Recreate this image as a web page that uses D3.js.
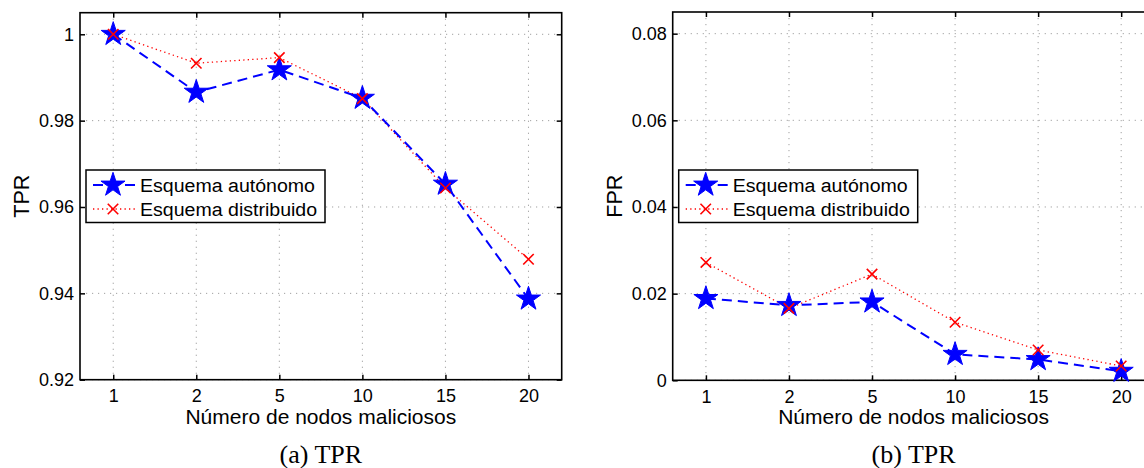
<!DOCTYPE html>
<html>
<head>
<meta charset="utf-8">
<style>
  body { margin: 0; background: #fff; }
  svg { display: block; }
  .tick text, .lbl, .leg text { font-family: "Liberation Sans", Arial, sans-serif; fill: #000; }
  .cap { font-family: "Liberation Serif", "DejaVu Serif", serif; fill: #000; }
</style>
</head>
<body>
<svg id="fig" width="1144" height="468"></svg>
<script src="https://d3js.org/d3.v7.min.js"></script>
<script>
// data
var categories = ["1", "2", "5", "10", "15", "20"];
var tprAutonomo    = [1.000, 0.9866, 0.9918, 0.9852, 0.9653, 0.9387];
var tprDistribuido = [1.000, 0.9933, 0.9946, 0.9851, 0.9644, 0.9479];
var fprAutonomo    = [0.0189, 0.0173, 0.0181, 0.0060, 0.0048, 0.0021];
var fprDistribuido = [0.0272, 0.0166, 0.0245, 0.0134, 0.0070, 0.0033];
var tprTicks = [0.92, 0.94, 0.96, 0.98, 1];
var fprTicks = [0, 0.02, 0.04, 0.06, 0.08];
var seriesNames = ["Esquema autónomo", "Esquema distribuido"];
var xLabel = "Número de nodos maliciosos";

var svg = d3.select("#fig");

// x-shaped marker like matlab's 'x'
var symbolX = {
  draw: function(ctx, size) {
    var r = Math.sqrt(size) / 2;
    ctx.moveTo(-r, -r); ctx.lineTo(r, r);
    ctx.moveTo(-r, r); ctx.lineTo(r, -r);
  }
};

function panel(o) {
  var x = d3.scalePoint().domain(categories).range([o.left, o.right]).padding(0.4);
  var y = d3.scaleLinear().domain(o.domain).range([o.bottom, o.top]);
  var g = svg.append("g");

  // dotted grid
  g.append("g").selectAll("line.gx").data(categories).enter().append("line")
    .attr("x1", function(d) { return x(d); }).attr("x2", function(d) { return x(d); })
    .attr("y1", o.top).attr("y2", o.bottom)
    .attr("stroke", "#a0a0a0").attr("stroke-width", 1).attr("stroke-dasharray", "1.2,4.8");
  g.append("g").selectAll("line.gy").data(o.ticks).enter().append("line")
    .attr("y1", function(d) { return y(d); }).attr("y2", function(d) { return y(d); })
    .attr("x1", o.left).attr("x2", o.right)
    .attr("stroke", "#a0a0a0").attr("stroke-width", 1).attr("stroke-dasharray", "1.2,4.8");

  // axes, ticks pointing inward
  g.append("g").attr("transform", "translate(0," + o.bottom + ")")
    .call(d3.axisBottom(x).tickSizeInner(-5).tickSizeOuter(0).tickPadding(10));
  g.append("g").attr("transform", "translate(" + o.left + ",0)")
    .call(d3.axisLeft(y).tickValues(o.ticks).tickFormat(d3.format("~g")).tickSizeInner(-5).tickSizeOuter(0).tickPadding(6));
  g.append("g").attr("transform", "translate(0," + o.top + ")")
    .call(d3.axisTop(x).tickSizeInner(-5).tickSizeOuter(0).tickFormat(""));
  g.append("g").attr("transform", "translate(" + o.right + ",0)")
    .call(d3.axisRight(y).tickValues(o.ticks).tickSizeInner(-5).tickSizeOuter(0).tickFormat(""));
  g.selectAll(".domain").remove();
  g.selectAll(".tick line").attr("stroke", "#000").attr("stroke-width", 1.5);
  g.selectAll(".tick text").attr("font-size", 18);

  g.append("rect")
    .attr("x", o.left).attr("y", o.top)
    .attr("width", o.right - o.left).attr("height", o.bottom - o.top)
    .attr("fill", "none").attr("stroke", "#000").attr("stroke-width", 1.6);

  // series
  var line = d3.line().x(function(d, i) { return x(categories[i]); }).y(function(d) { return y(d); });
  g.append("path").datum(o.dist).attr("d", line)
    .attr("fill", "none").attr("stroke", "#ff0000").attr("stroke-width", 1.3).attr("stroke-dasharray", "1.3,3.2");
  g.append("path").datum(o.auto).attr("d", line)
    .attr("fill", "none").attr("stroke", "#0000ff").attr("stroke-width", 2).attr("stroke-dasharray", "10,6");

  var star = d3.symbol().type(d3.symbolStar).size(180);
  var cross = d3.symbol().type(symbolX).size(110);
  g.selectAll("path.st").data(o.auto).enter().append("path")
    .attr("d", star)
    .attr("transform", function(d, i) { return "translate(" + x(categories[i]) + "," + y(d) + ")"; })
    .attr("fill", "#0000ff").attr("stroke", "#0000ff").attr("stroke-width", 1);
  g.selectAll("path.cx").data(o.dist).enter().append("path")
    .attr("d", cross)
    .attr("transform", function(d, i) { return "translate(" + x(categories[i]) + "," + y(d) + ")"; })
    .attr("fill", "none").attr("stroke", "#ff0000").attr("stroke-width", 1.6);

  // axis labels
  g.append("text").attr("class", "lbl")
    .attr("x", (o.left + o.right) / 2).attr("y", o.bottom + 44)
    .attr("text-anchor", "middle").attr("font-size", 21).text(xLabel);
  g.append("text").attr("class", "lbl")
    .attr("transform", "translate(" + (o.left - 51) + "," + ((o.top + o.bottom) / 2) + ") rotate(-90)")
    .attr("text-anchor", "middle").attr("font-size", 21.5).text(o.yLabel);

  // legend
  var lx = o.left + 6, ly = 170;
  var leg = g.append("g").attr("class", "leg").attr("transform", "translate(" + lx + "," + ly + ")");
  leg.append("rect").attr("width", 239).attr("height", 52.5)
    .attr("fill", "#fff").attr("stroke", "#000").attr("stroke-width", 1.5);
  var rows = [
    { name: seriesNames[0], color: "#0000ff", dash: "10,6", w: 2, sym: star, fill: "#0000ff" },
    { name: seriesNames[1], color: "#ff0000", dash: "1.3,3.2", w: 1.3, sym: cross, fill: "none" }
  ];
  rows.forEach(function(r, i) {
    var cy = 15 + i * 24;
    leg.append("line").attr("x1", 7).attr("x2", 50).attr("y1", cy).attr("y2", cy)
      .attr("stroke", r.color).attr("stroke-width", r.w).attr("stroke-dasharray", r.dash);
    leg.append("path").attr("d", r.sym).attr("transform", "translate(27," + cy + ")")
      .attr("fill", r.fill).attr("stroke", r.color).attr("stroke-width", i === 0 ? 1 : 1.6);
    leg.append("text").attr("transform", "translate(54," + cy + ") scale(1.03,1)").attr("dy", "0.36em")
      .attr("font-size", 19).text(r.name);
  });

  // caption
  g.append("text").attr("class", "cap")
    .attr("x", (o.left + o.right) / 2).attr("y", 463)
    .attr("text-anchor", "middle").attr("font-size", 26).text(o.caption);
}

panel({ left: 80, right: 561.7, top: 12.7, bottom: 379.7, domain: [0.92, 1.005], ticks: tprTicks,
        auto: tprAutonomo, dist: tprDistribuido, yLabel: "TPR", caption: "(a) TPR" });
panel({ left: 672.7, right: 1154.4, top: 12, bottom: 380.3, domain: [0, 0.085], ticks: fprTicks,
        auto: fprAutonomo, dist: fprDistribuido, yLabel: "FPR", caption: "(b) TPR" });
</script>
</body>
</html>
